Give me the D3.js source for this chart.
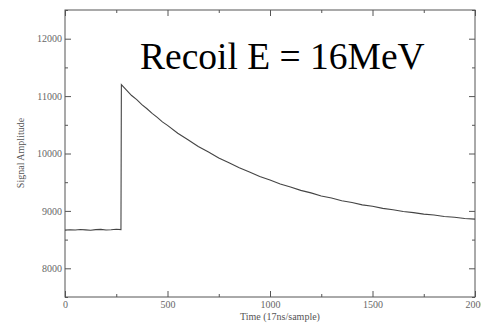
<!DOCTYPE html>
<html>
<head>
<meta charset="utf-8">
<script src="https://cdn.jsdelivr.net/npm/d3@7"></script>
<style>
html,body{margin:0;padding:0;background:#fff;}
svg{display:block;}
.serif{font-family:"Liberation Serif","Times New Roman",Times,"DejaVu Serif",serif;}
</style>
</head>
<body>
<svg id="chart" width="481" height="323"></svg>
<script>
// Data
const times = [0, 25, 50, 75, 100, 125, 150, 175, 200, 225, 250, 273,
  275, 300, 325, 350, 375, 400, 425, 450, 475, 500, 550, 600, 650, 700, 750, 800, 850, 900, 950,
  1000, 1050, 1100, 1150, 1200, 1250, 1300, 1350, 1400, 1450, 1500, 1550, 1600, 1650, 1700,
  1750, 1800, 1850, 1900, 1950, 2000];
const amplitude = [8665, 8672, 8666, 8676, 8670, 8663, 8673, 8678, 8668, 8672, 8680, 8675,
  11200, 11105, 11010, 10940, 10850, 10780, 10700, 10630, 10550, 10490, 10352, 10240, 10122, 10025, 9922, 9838, 9750, 9678, 9598,
  9538, 9470, 9418, 9358, 9314, 9260, 9224, 9178, 9146, 9105, 9080, 9044, 9020, 8990, 8970,
  8944, 8928, 8902, 8890, 8868, 8856];
const xMajorTicks = [0, 500, 1000, 1500, 2000];
const xMinorTicks = [250, 750, 1250, 1750];
const yMajorTicks = [8000, 9000, 10000, 11000, 12000];
const yMinorTicks = [7500, 8500, 9500, 10500, 11500, 12500];
const title = "Recoil E = 16MeV";
const xLabel = "Time (17ns/sample)";
const yLabel = "Signal Amplitude";

const svg = d3.select("#chart");
const L = 65, R = 475, T = 10, B = 297;
const x = d3.scaleLinear().domain([0, 2000]).range([L, R]);
const y = d3.scaleLinear().domain([7500, 12500]).range([B, T]);
const axisColor = "#555";

// frame
svg.append("rect").attr("x", L).attr("y", T).attr("width", R - L).attr("height", B - T)
  .attr("fill", "none").attr("stroke", axisColor).attr("stroke-width", 1);

function styleAxis(g) {
  g.attr("font-family", null).attr("font-size", null).attr("class", "serif");
  g.select(".domain").remove();
  g.selectAll(".tick line").attr("stroke", axisColor);
  g.selectAll(".tick text").attr("fill", "#666").style("font-size", "10px");
}

// bottom axis (inward ticks)
const gb = svg.append("g").attr("transform", `translate(0,${B})`)
  .call(d3.axisBottom(x).tickValues(xMajorTicks).tickSize(-6).tickPadding(4).tickFormat(d3.format("d")));
styleAxis(gb);
const gbm = svg.append("g").attr("transform", `translate(0,${B})`)
  .call(d3.axisBottom(x).tickValues(xMinorTicks).tickSize(-3).tickFormat(""));
styleAxis(gbm);
// top axis
const gt = svg.append("g").attr("transform", `translate(0,${T})`)
  .call(d3.axisTop(x).tickValues(xMajorTicks).tickSize(-6).tickFormat(""));
styleAxis(gt);
const gtm = svg.append("g").attr("transform", `translate(0,${T})`)
  .call(d3.axisTop(x).tickValues(xMinorTicks).tickSize(-3).tickFormat(""));
styleAxis(gtm);
// left axis
const gl = svg.append("g").attr("transform", `translate(${L},0)`)
  .call(d3.axisLeft(y).tickValues(yMajorTicks).tickSize(-6).tickPadding(3).tickFormat(d3.format("d")));
styleAxis(gl);
const glm = svg.append("g").attr("transform", `translate(${L},0)`)
  .call(d3.axisLeft(y).tickValues(yMinorTicks).tickSize(-3).tickFormat(""));
styleAxis(glm);
// right axis
const gr = svg.append("g").attr("transform", `translate(${R},0)`)
  .call(d3.axisRight(y).tickValues(yMajorTicks).tickSize(-6).tickFormat(""));
styleAxis(gr);
const grm = svg.append("g").attr("transform", `translate(${R},0)`)
  .call(d3.axisRight(y).tickValues(yMinorTicks).tickSize(-3).tickFormat(""));
styleAxis(grm);

// signal line
const pts = times.map((t, i) => [t, amplitude[i]]);
svg.append("path").datum(pts)
  .attr("fill", "none").attr("stroke", "#444").attr("stroke-width", 1.1)
  .attr("d", d3.line().x(d => x(d[0])).y(d => y(d[1])));

// title
svg.append("text").attr("class", "serif").attr("x", 140).attr("y", 69)
  .style("font-size", "37.5px").attr("fill", "#000")
  .text(title);

// axis labels
svg.append("text").attr("class", "serif").attr("x", 280).attr("y", 320).attr("text-anchor", "middle")
  .style("font-size", "10px").attr("fill", "#555").text(xLabel);
svg.append("text").attr("class", "serif").attr("transform", `translate(24,153) rotate(-90)`).attr("text-anchor", "middle")
  .style("font-size", "10px").attr("fill", "#555").text(yLabel);
</script>
</body>
</html>
